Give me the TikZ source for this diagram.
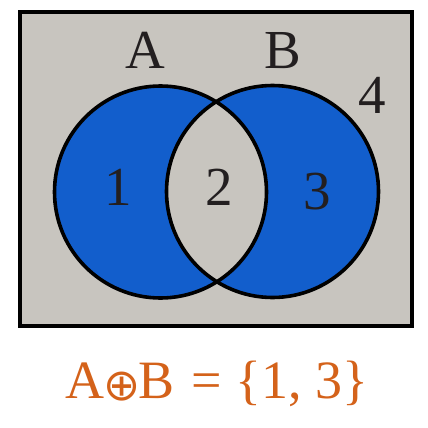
\documentclass[tikz,border=0pt]{standalone}
\usepackage{fontspec}
\setmainfont{Liberation Serif}
\newfontfamily\symfont{DejaVu Sans}
\usepackage{graphicx}
\definecolor{bgray}{RGB}{200,197,191}
\definecolor{vblue}{RGB}{18,94,204}
\definecolor{txt}{RGB}{35,31,32}
\definecolor{orng}{RGB}{212,98,26}
\begin{document}
\begin{tikzpicture}[x=1pt,y=-1pt,
  lbl/.style={anchor=base,inner sep=0pt,text=txt,font=\fontsize{55}{62}\selectfont},
  outline/.style={draw=black,line width=3.6pt}]
\useasboundingbox (0,0) rectangle (428,428);
\node[draw=black,line width=4pt,fill=bgray,minimum width=392pt,minimum height=313.5pt,inner sep=0pt] (box) at (216,169.25) {};
\coordinate (ca) at (160.5,192);
\coordinate (cb) at (272.5,191.5);
\fill[vblue] (ca) circle[radius=106pt];
\fill[vblue] (cb) circle[radius=106pt];
\begin{scope}
  \clip (ca) circle[radius=106pt];
  \fill[bgray] (cb) circle[radius=106pt];
\end{scope}
\draw[outline] (ca) circle[radius=106pt];
\draw[outline] (cb) circle[radius=106pt];
\node[lbl] (la) at (145,68.5) {A};
\node[lbl] (lb) at (283,68.5) {B};
\node[lbl] (l4) at (372,113) {4};
\node[lbl] (l1) at (118,205) {1};
\node[lbl] (l2) at (219,205) {2};
\node[lbl] (l3) at (317,209) {3};
\node[anchor=base,inner sep=0pt,text=orng,font=\fontsize{54}{62}\selectfont] (eq) at (217,398)
  {A\kern-0.03em\raisebox{-0.04em}{\scalebox{0.82}{\symfont ⊕}}\kern-0.03emB\kern0.06em{} = \{1, 3\}};
\end{tikzpicture}
\end{document}
